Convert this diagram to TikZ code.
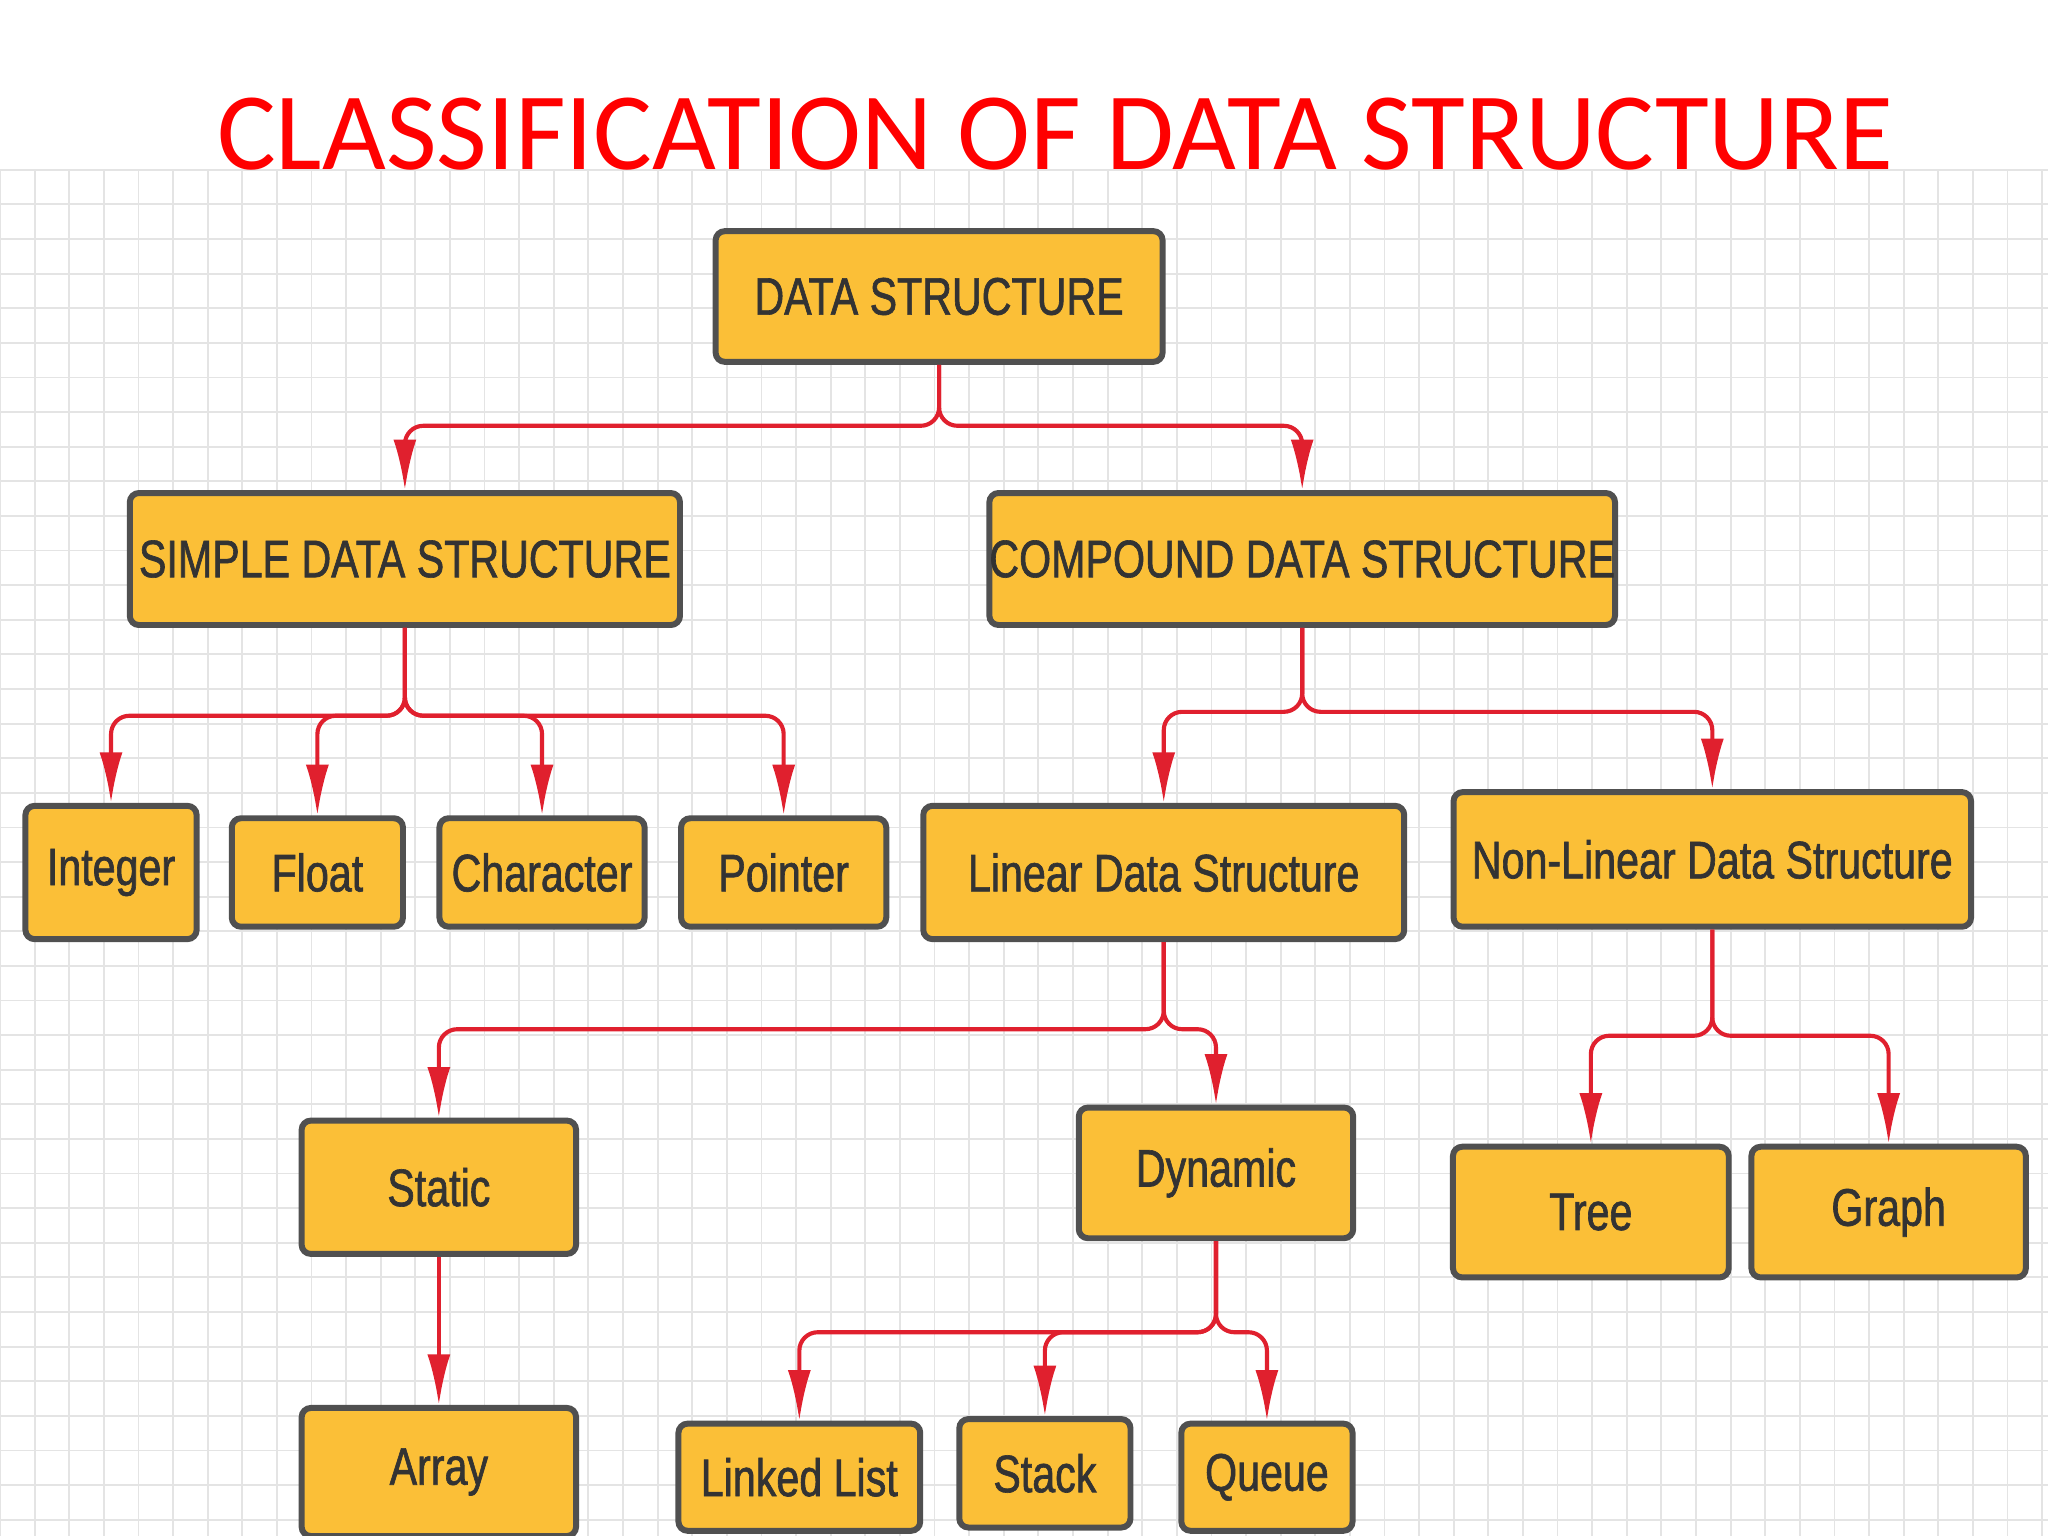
\documentclass[tikz,border=0pt]{standalone}
\usepackage{fontspec}
\setmainfont{Liberation Sans}
\newfontfamily\boxfont[FakeStretch=0.78,FakeBold=1.2]{Liberation Sans}
\newfontfamily\titlefont{Carlito}
\usetikzlibrary{arrows.meta}
\definecolor{boxfill}{HTML}{FBBF37}
\definecolor{boxline}{HTML}{505050}
\definecolor{arrred}{HTML}{E0202E}
\definecolor{gridc}{HTML}{E4E4E4}
\tikzset{
  bx/.style={draw=boxline,fill=boxfill,line width=1.3pt,rounded corners=2pt,inner sep=0pt,font=\boxfont\fontsize{11.5}{14}\selectfont,text=black!80},
  arr/.style={draw=arrred,line width=0.9pt,-{Latex[length=11pt,width=5pt]}}
}
\begin{document}
\begin{tikzpicture}[x=0.01cm,y=-0.01cm]
\useasboundingbox (0,0) rectangle (1568,1176);
\fill[white] (0,0) rectangle (1568,1176);
\begin{scope}
\clip (0,130) rectangle (1568,1176);
\foreach \i in {0,...,60} {\draw[gridc,line width=0.4pt] (\i*26.5,130) -- (\i*26.5,1176);}
\foreach \i in {0,...,40} {\draw[gridc,line width=0.4pt] (0,130+\i*26.5) -- (1568,130+\i*26.5);}
\end{scope}
\node[text=red,font=\titlefont\fontsize{24}{29}\selectfont] (title) at (808,103) {CLASSIFICATION OF DATA STRUCTURE};
\newcommand\mybox[6]{\node[bx,minimum width=#4cm,minimum height=#5cm] (#1) at (#2,#3) {#6};}
\mybox{DS}{719}{227}{3.42}{1.0}{DATA STRUCTURE}
\mybox{S}{310}{428}{4.21}{1.01}{SIMPLE DATA STRUCTURE}
\mybox{C}{997}{428}{4.74}{1.01}{COMPOUND DATA STRUCTURE}
\mybox{I}{85}{668}{1.31}{1.02}{Integer}
\mybox{F}{243}{668}{1.31}{0.83}{Float}
\mybox{Ch}{415}{668}{1.57}{0.83}{Character}
\mybox{P}{600}{668}{1.57}{0.83}{Pointer}
\mybox{L}{891}{668}{3.68}{1.02}{Linear Data Structure}
\mybox{N}{1311}{658}{3.96}{1.03}{Non-Linear Data Structure}
\mybox{St}{336}{909}{2.10}{1.02}{Static}
\mybox{Dy}{931}{898}{2.10}{1.00}{Dynamic}
\mybox{T}{1218}{928}{2.11}{1.00}{Tree}
\mybox{G}{1446}{928}{2.10}{1.00}{Graph}
\mybox{A}{336}{1127}{2.10}{0.98}{Array}
\mybox{LL}{612}{1131}{1.85}{0.82}{Linked List}
\mybox{Sk}{800}{1128}{1.31}{0.83}{Stack}
\mybox{Q}{970}{1131}{1.31}{0.82}{Queue}
\foreach \p/\c/\y in {DS/S/326,DS/C/326,S/I/548,S/F/548,S/Ch/548,S/P/548,C/L/545,C/N/545,L/St/788,L/Dy/788,N/T/793,N/G/793,Dy/LL/1020,Dy/Sk/1020,Dy/Q/1020}
  {\draw[arr,rounded corners=4pt] (\p.south) -- (\p.south |- 0,\y) -| (\c.north);}
\draw[arr] (St.south) -- (A.north);
\end{tikzpicture}
\end{document}
